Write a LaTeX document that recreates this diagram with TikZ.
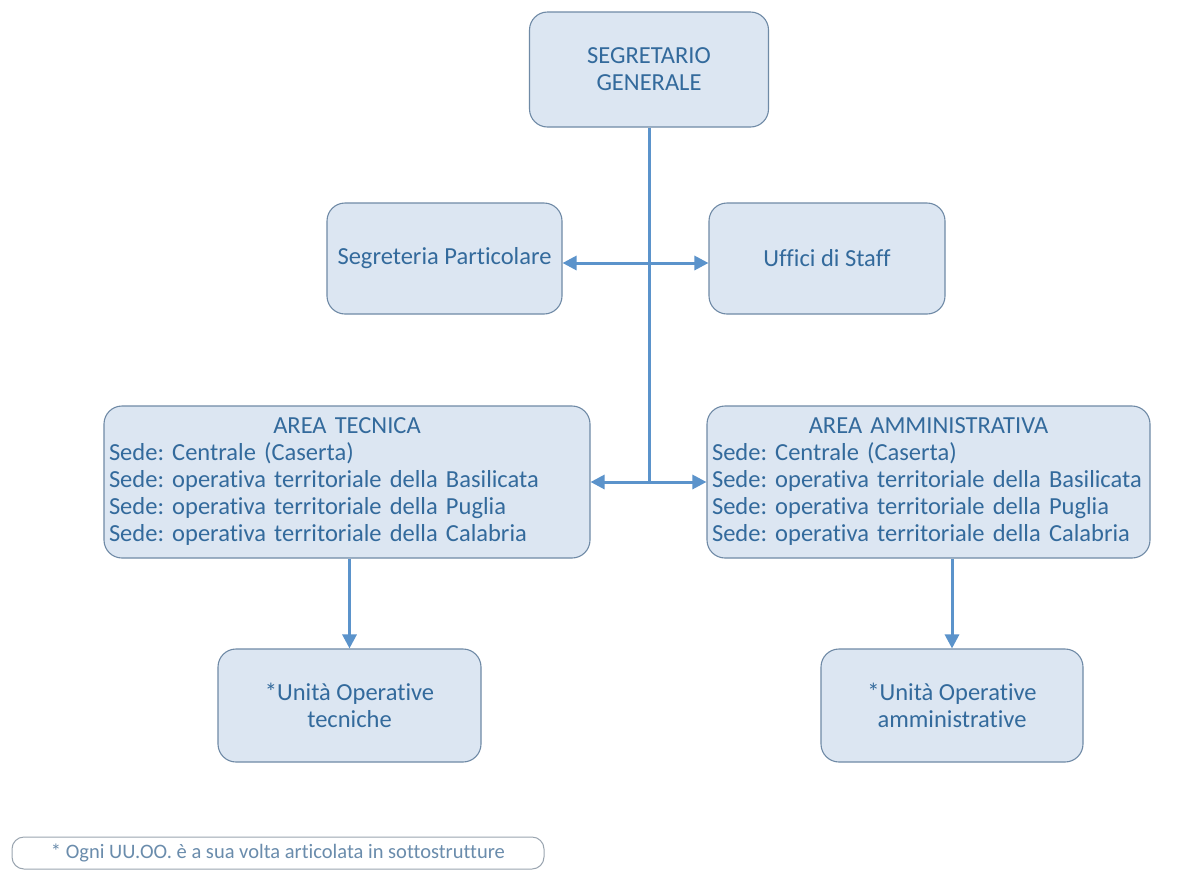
\documentclass[tikz,border=0pt]{standalone}
\usepackage{fontspec}
\setmainfont{Carlito}[Ligatures=NoCommon]
\frenchspacing
\usetikzlibrary{arrows.meta,calc}
\definecolor{txtblue}{HTML}{336A9C}
\definecolor{boxfill}{HTML}{DCE6F2}
\definecolor{boxdraw}{HTML}{6F8AA6}
\definecolor{connblue}{HTML}{5B93CB}
\definecolor{notetxt}{HTML}{6A8CAC}
\definecolor{notedraw}{HTML}{9AA5B0}
\begin{document}
\begin{tikzpicture}[x=1pt,y=-1pt,
  orgbox/.style={draw=boxdraw, fill=boxfill, line width=1.1pt, rounded corners=18pt,
    text=txtblue, align=center, font=\fontsize{24.5}{27}\selectfont, inner sep=4pt},
  areabox/.style={orgbox, align=left},
  conn/.style={draw=connblue, line width=3pt},
  arr/.style={conn, -{Triangle[length=14pt,width=14pt]}},
  notebox/.style={draw=notedraw, fill=white, line width=1pt, rounded corners=12pt,
    text=notetxt, font=\fontsize{20.5}{23}\selectfont, inner sep=2pt}]
\useasboundingbox (0,0) rectangle (1179,871);
\fill[white] (0,0) rectangle (1179,871);

\node[orgbox, minimum width=239pt, minimum height=115pt] (sg) at (649,69.5) {SEGRETARIO\\GENERALE};
\node[orgbox, minimum width=235pt, minimum height=111pt] (sp) at (444.5,258.5) {Segreteria Particolare};
\node[orgbox, minimum width=236pt, minimum height=111pt] (us) at (827,258.5) {Uffici di Staff};

\node[areabox, minimum width=486pt, minimum height=152pt, text width=476pt] (at) at (347,482)
  {\makebox[\linewidth][c]{AREA TECNICA}\\
   Sede: Centrale (Caserta)\\
   Sede: operativa territoriale della Basilicata\\
   Sede: operativa territoriale della Puglia\\
   Sede: operativa territoriale della Calabria};
\node[areabox, minimum width=443pt, minimum height=152pt, text width=433pt] (aa) at (928.5,482)
  {\makebox[\linewidth][c]{AREA AMMINISTRATIVA}\\
   Sede: Centrale (Caserta)\\
   Sede: operativa territoriale della Basilicata\\
   Sede: operativa territoriale della Puglia\\
   Sede: operativa territoriale della Calabria};

\node[orgbox, minimum width=263pt, minimum height=113pt] (ut) at (349.5,705.5) {*Unità Operative\\tecniche};
\node[orgbox, minimum width=262pt, minimum height=113pt] (ua) at (952,705.5) {*Unità Operative\\amministrative};

\node[notebox, minimum width=532pt, minimum height=32pt] (note) at (278,853) {* Ogni UU.OO. è a sua volta articolata in sottostrutture};

\coordinate (j1) at (sg.south |- 0,263);
\coordinate (j2) at (sg.south |- at.east);
\draw[conn] (sg.south) -- (j2);
\draw[arr] (j1) -- (j1 -| sp.east);
\draw[arr] (j1) -- (j1 -| us.west);
\draw[arr] (j2) -- (at.east);
\draw[arr] (j2) -- (aa.west);
\draw[arr] (at.south -| ut.north) -- (ut.north);
\draw[arr] (aa.south -| ua.north) -- (ua.north);
\end{tikzpicture}
\end{document}
